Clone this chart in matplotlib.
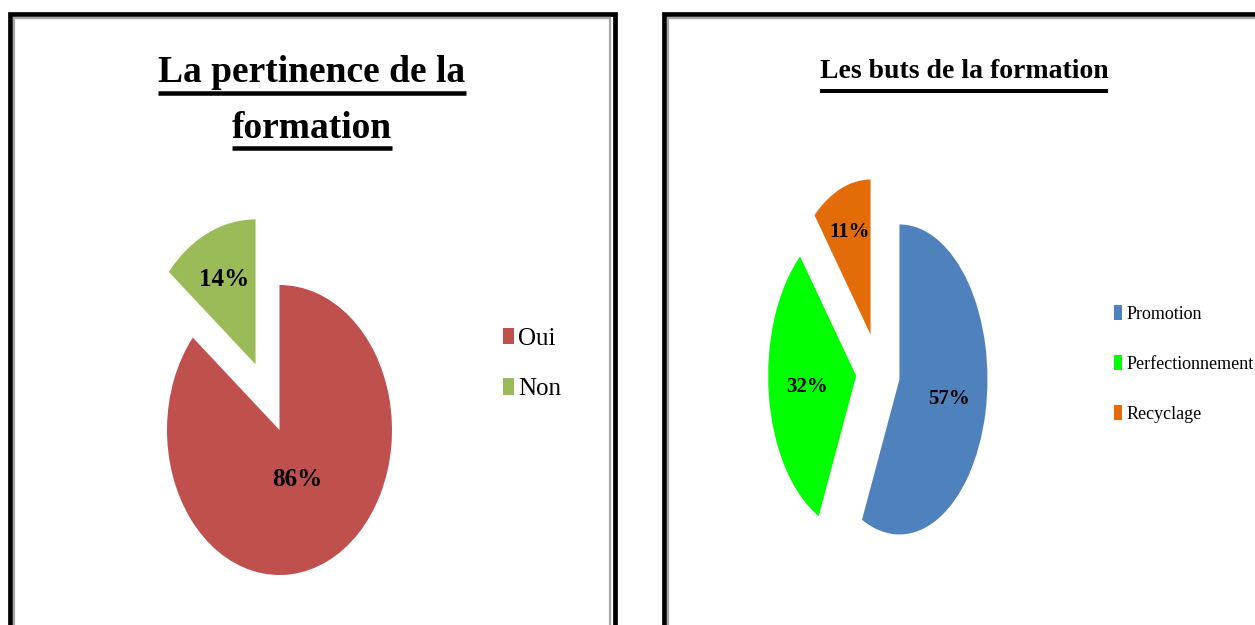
import matplotlib
matplotlib.use("Agg")
import matplotlib.pyplot as plt
import numpy as np
from matplotlib.patches import Rectangle
from matplotlib.lines import Line2D
from matplotlib.transforms import IdentityTransform

# donnees
pert_labels = ["Oui", "Non"]
pert_values = [86, 14]
pert_colors = ["#C0504D", "#9BBB59"]

buts_labels = ["Promotion", "Perfectionnement", "Recyclage"]
buts_values = [57, 32, 11]
buts_colors = ["#4F81BD", "#00FF00", "#E36C09"]

W, H = 1255, 625
SERIF = "Liberation Serif"

fig = plt.figure(figsize=(W / 100, H / 100), dpi=100)


def fx(px):
    return px / W


def fy(py):
    # py compte depuis le haut
    return 1 - py / H


def add_axes_px(left, top, width, height):
    return fig.add_axes([fx(left), fy(top + height), width / W, height / H])


def cadre(x0, y0, x1, y1):
    fig.add_artist(Rectangle((fx(x0), fy(y1)), fx(x1 - x0), (y1 - y0) / H,
                             transform=fig.transFigure, fill=False,
                             edgecolor="black", linewidth=3.4, clip_on=False))
    fig.add_artist(Rectangle((fx(x0 + 4.5), fy(y1)), fx(x1 - x0 - 9), (y1 - y0 - 4) / H,
                             transform=fig.transFigure, fill=False,
                             edgecolor="#a6a6a6", linewidth=1.6, clip_on=False))


cadre(9.5, 14, 614.5, 700)
cadre(663.5, 14, 1300, 700)


def camembert(ax, values, colors, explode, dists, fsize):
    wedges, _ = ax.pie(values, colors=colors, explode=explode, startangle=90,
                       counterclock=False, wedgeprops=dict(linewidth=0))
    for w, v, d in zip(wedges, values, dists):
        mid = np.deg2rad((w.theta1 + w.theta2) / 2)
        cx, cy = w.center
        ax.text(cx + d * w.r * np.cos(mid), cy + d * w.r * np.sin(mid), "%d%%" % v,
                ha="center", va="center", fontsize=fsize, fontweight="bold",
                family=SERIF, color="black")
    ax.set_aspect("auto")
    ax.set_axis_off()
    return wedges


# graphique de gauche : ellipse centre (279.5, 430), rx 112.5, ry 145
rx, ry = 112.5, 145
ax1 = add_axes_px(279.5 - 1.1 * rx, 430 - 1.55 * ry, 2.2 * rx, 2.6 * ry)
w1 = camembert(ax1, pert_values, pert_colors, [0, 0.5], [0.38, 0.65], 18)
ax1.set_xlim(-1.1, 1.1)
ax1.set_ylim(-1.05, 1.55)

# graphique de droite : centre (878, 371), rx 88, ry 155
rx, ry = 88, 155
ax2 = add_axes_px(878 - 1.3 * rx, 371 - 1.3 * ry, 2.6 * rx, 2.6 * ry)
w2 = camembert(ax2, buts_values, buts_colors, [0.25, 0.25, 0.25], [0.58, 0.56, 0.7], 15)
ax2.set_xlim(-1.3, 1.3)
ax2.set_ylim(-1.3, 1.3)

# legendes
fig.legend(w1, pert_labels, loc="center left", bbox_to_anchor=(fx(503), fy(364)),
           frameon=False, prop=dict(family=SERIF, size=18), handlelength=0.45,
           handleheight=0.65, handletextpad=0.15, labelspacing=1.14,
           borderpad=0, borderaxespad=0)
fig.legend(w2, buts_labels, loc="center left", bbox_to_anchor=(fx(1114), fy(364)),
           frameon=False, prop=dict(family=SERIF, size=13), handlelength=0.45,
           handleheight=0.85, handletextpad=0.25, labelspacing=1.8,
           borderpad=0, borderaxespad=0)

# titres souligne
titres = [("La pertinence de la", 312, 82, 27, 10.5, 4.5),
          ("formation", 312, 138.5, 27, 9.5, 4.5),
          ("Les buts de la formation", 964, 78, 20, 12.5, 4.0)]
textes = []
for s, x, y, size, off, lw in titres:
    t = fig.text(fx(x), fy(y), s, ha="center", va="baseline", fontsize=size,
                 fontweight="bold", family=SERIF, color="black")
    textes.append((t, y, off, lw))

fig.canvas.draw()
rend = fig.canvas.get_renderer()
for t, y, off, lw in textes:
    bb = t.get_window_extent(rend)
    yl = H - (y + off)
    fig.add_artist(Line2D([bb.x0, bb.x1], [yl, yl], transform=IdentityTransform(),
                          color="black", linewidth=lw * 0.72, solid_capstyle="butt"))

fig.savefig("out.png", dpi=100)
